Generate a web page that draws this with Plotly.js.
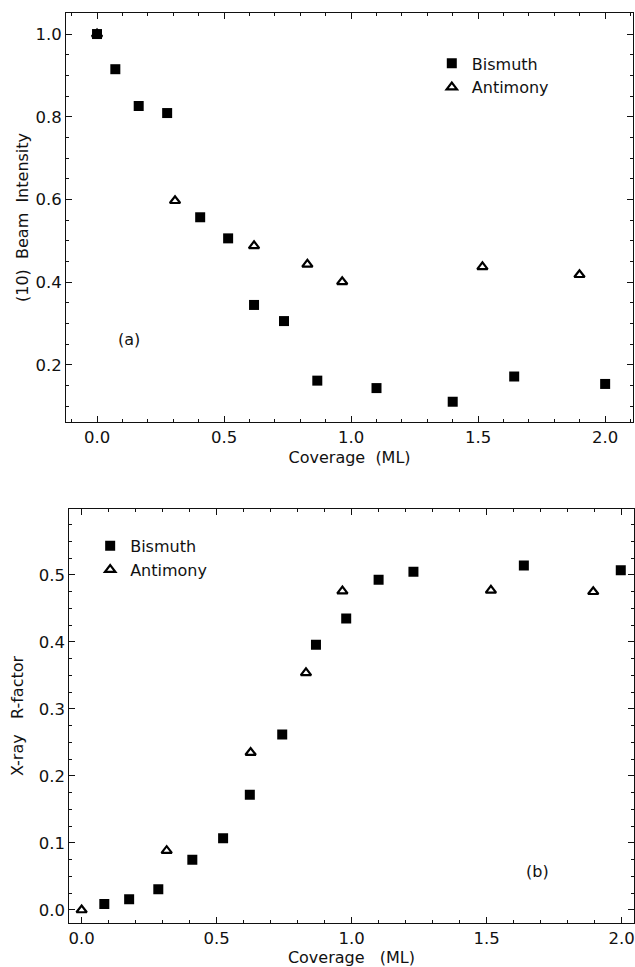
<!DOCTYPE html>
<html>
<head>
<meta charset="utf-8">
<script src="https://cdn.plot.ly/plotly-3.0.1.min.js"></script>
<style>html,body{margin:0;padding:0;background:#fff;}</style>
</head>
<body>
<div id="chart" style="width:635px;height:967px;"></div>
<script>
// Panel (a): (10) beam intensity vs coverage
const biCovA = [0.0, 0.072, 0.164, 0.276, 0.406, 0.516, 0.618, 0.736, 0.867, 1.10, 1.40, 1.642, 2.0];
const biIntA = [1.0, 0.915, 0.826, 0.809, 0.557, 0.506, 0.345, 0.306, 0.162, 0.144, 0.111, 0.172, 0.154];
const sbCovA = [0.0, 0.307, 0.618, 0.828, 0.965, 1.517, 1.899];
const sbIntA = [1.0, 0.597, 0.488, 0.443, 0.401, 0.437, 0.418];

// Panel (b): X-ray R-factor vs coverage
const biCovB = [0.084, 0.176, 0.284, 0.410, 0.524, 0.623, 0.743, 0.868, 0.980, 1.100, 1.229, 1.638, 1.997];
const biRB   = [0.009, 0.016, 0.031, 0.075, 0.107, 0.172, 0.262, 0.396, 0.435, 0.493, 0.505, 0.514, 0.507];
const sbCovB = [0.0, 0.315, 0.626, 0.831, 0.966, 1.516, 1.895];
const sbRB   = [0.0, 0.0885, 0.235, 0.354, 0.476, 0.477, 0.475];

const seriesNames = ['Bismuth', 'Antimony'];
const xTitle = 'Coverage\u00a0\u00a0(ML)';
const xTitleB = 'Coverage\u00a0\u00a0\u00a0(ML)';
const yTitleA = '(10)\u00a0\u00a0Beam\u00a0\u00a0Intensity';
const yTitleB = 'X-ray\u00a0\u00a0\u00a0R-factor';

const FONT = 'DejaVu Sans, sans-serif';
const sqMarker = {symbol: 'square', size: 10, color: '#000', line: {width: 0}};
const triMarker = {symbol: 'triangle-up-open', size: 9, color: '#000', line: {width: 2.2, color: '#000'}};

const traces = [
  {x: biCovA, y: biIntA, name: seriesNames[0], type: 'scatter', mode: 'markers', marker: sqMarker, xaxis: 'x', yaxis: 'y', legend: 'legend'},
  {x: sbCovA, y: sbIntA, name: seriesNames[1], type: 'scatter', mode: 'markers', marker: triMarker, xaxis: 'x', yaxis: 'y', legend: 'legend'},
  {x: biCovB, y: biRB, name: seriesNames[0], type: 'scatter', mode: 'markers', marker: sqMarker, xaxis: 'x2', yaxis: 'y2', legend: 'legend2'},
  {x: sbCovB, y: sbRB, name: seriesNames[1], type: 'scatter', mode: 'markers', marker: triMarker, xaxis: 'x2', yaxis: 'y2', legend: 'legend2'}
];

function axisBase(extra) {
  return Object.assign({
    showgrid: false, zeroline: false, showline: true, linecolor: '#111', linewidth: 1,
    mirror: 'ticks', ticks: 'inside', ticklen: 6, tickwidth: 1, tickcolor: '#111',
    tickfont: {family: FONT, size: 16.5, color: '#111'},
    tickformat: '.1f', automargin: false
  }, extra);
}

const layout = {
  width: 635, height: 967,
  margin: {l: 0, r: 0, t: 0, b: 0},
  paper_bgcolor: '#fff', plot_bgcolor: '#fff',
  font: {family: FONT, color: '#111'},
  xaxis: axisBase({domain: [0.104, 0.997], range: [-0.122, 2.11], dtick: 0.5, tick0: 0, anchor: 'y',
    minor: {dtick: 0.1, ticks: 'inside', ticklen: 3, tickcolor: '#111'},
    title: {text: xTitle, font: {family: FONT, size: 16}, standoff: 6}}),
  yaxis: axisBase({domain: [0.5636, 0.9866], range: [0.062, 1.051], dtick: 0.2, tick0: 0, anchor: 'x',
    minor: {dtick: 0.05, ticks: 'inside', ticklen: 3, tickcolor: '#111'},
    title: {text: yTitleA, font: {family: FONT, size: 16}, standoff: 2}}),
  xaxis2: axisBase({domain: [0.109, 0.998], range: [-0.046, 2.045], dtick: 0.5, tick0: 0, anchor: 'y2',
    minor: {dtick: 0.1, ticks: 'inside', ticklen: 3, tickcolor: '#111'},
    title: {text: xTitleB, font: {family: FONT, size: 16}, standoff: 5}}),
  yaxis2: axisBase({domain: [0.0458, 0.4733], range: [-0.019, 0.598], dtick: 0.1, tick0: 0, anchor: 'x2',
    minor: {dtick: 0.025, ticks: 'inside', ticklen: 3, tickcolor: '#111'},
    title: {text: yTitleB, font: {family: FONT, size: 16}, standoff: 11}}),
  legend: {x: 0.68, y: 0.952, xanchor: 'left', yanchor: 'top', bgcolor: 'rgba(0,0,0,0)',
    font: {family: FONT, size: 16, color: '#111'}, tracegroupgap: 0},
  legend2: {x: 0.142, y: 0.453, xanchor: 'left', yanchor: 'top', bgcolor: 'rgba(0,0,0,0)',
    font: {family: FONT, size: 16, color: '#111'}, tracegroupgap: 0},
  annotations: [
    {text: '(a)', xref: 'x', yref: 'y', x: 0.125, y: 0.262, showarrow: false, font: {family: FONT, size: 16, color: '#111'}},
    {text: '(b)', xref: 'x2', yref: 'y2', x: 1.69, y: 0.058, showarrow: false, font: {family: FONT, size: 16, color: '#111'}}
  ],
  showlegend: true
};

Plotly.newPlot('chart', traces, layout, {staticPlot: true, displayModeBar: false});
</script>
</body>
</html>
